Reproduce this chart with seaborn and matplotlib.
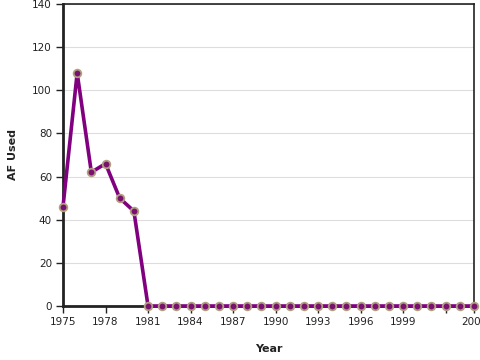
import matplotlib
matplotlib.use("Agg")
import matplotlib.pyplot as plt
import seaborn as sns
import pandas as pd

years = list(range(1975, 2005))
af_used = [46, 108, 62, 66, 50, 44] + [0] * (len(years) - 6)
x_ticks = [1975, 1978, 1981, 1984, 1987, 1990, 1993, 1996, 1999, 2002, 2004]
x_labels = ["1975", "1978", "1981", "1984", "1987", "1990", "1993", "1996", "1999", "", "2004"]
y_ticks = [0, 20, 40, 60, 80, 100, 120, 140]

df = pd.DataFrame({"Year": years, "AF Used": af_used})

sns.set_style("white")
plt.rcParams["font.family"] = ["DejaVu Sans"]

fig = plt.figure(figsize=(4.8, 3.6), dpi=100)
ax = fig.add_axes([63 / 480, 1 - 306 / 360, (474 - 63) / 480, (306 - 4) / 360])

sns.lineplot(data=df, x="Year", y="AF Used", ax=ax, color="#800080", linewidth=2.6,
             marker="o", markersize=5.5, markerfacecolor="#7a1070",
             markeredgecolor="#b0a080", markeredgewidth=1.3, zorder=3, clip_on=False)

ax.set_xlim(1975, 2004)
ax.set_ylim(0, 140)
ax.set_xticks(x_ticks)
ax.set_xticklabels(x_labels)
ax.set_yticks(y_ticks)
ax.yaxis.grid(True, color="#dddddd", linewidth=0.8)
ax.xaxis.grid(False)
ax.set_axisbelow(True)

for s in ax.spines.values():
    s.set_color("#222222")
    s.set_linewidth(1.2)
ax.spines["bottom"].set_linewidth(2)
ax.spines["left"].set_linewidth(2)

ax.tick_params(axis="both", direction="out", length=5, width=1, color="#222222",
               labelsize=7.5, labelcolor="#222222", bottom=True, left=True, pad=3)

ax.set_xlabel("Year", fontsize=8, fontweight="bold", color="#222222", labelpad=12)
ax.set_ylabel("AF Used", fontsize=8, fontweight="bold", color="#222222", labelpad=10)

fig.savefig("out.png", dpi=100)
